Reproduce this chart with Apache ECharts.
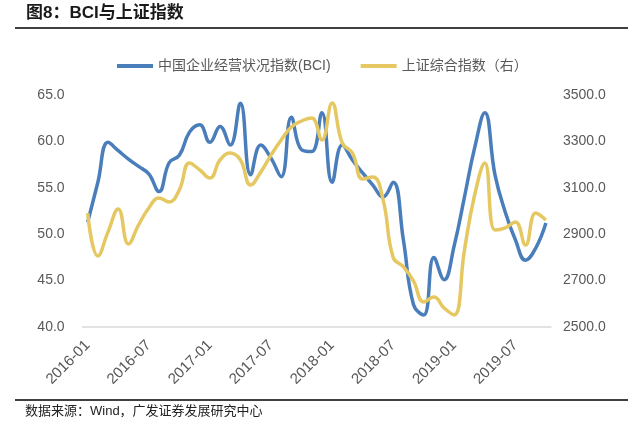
<!DOCTYPE html>
<html>
<head>
<meta charset="utf-8">
<script src="https://cdn.jsdelivr.net/npm/echarts@6/dist/echarts.min.js"></script>
<style>
html,body{margin:0;padding:0;background:#fff;}
#c{width:643px;height:437px;}
</style>
</head>
<body>
<div id="c"></div>
<script>
const categories = [
'2016-01','2016-02','2016-03','2016-04','2016-05','2016-06','2016-07','2016-08','2016-09','2016-10','2016-11','2016-12',
'2017-01','2017-02','2017-03','2017-04','2017-05','2017-06','2017-07','2017-08','2017-09','2017-10','2017-11','2017-12',
'2018-01','2018-02','2018-03','2018-04','2018-05','2018-06','2018-07','2018-08','2018-09','2018-10','2018-11','2018-12',
'2019-01','2019-02','2019-03','2019-04','2019-05','2019-06','2019-07','2019-08','2019-09','2019-10'];
const bciValues = [
51.3,55.6,59.9,59.0,58.1,57.3,56.5,54.6,57.7,58.5,61.0,61.8,
59.9,61.6,59.6,64.1,56.4,59.6,58.2,56.2,62.6,59.1,58.9,63.1,
55.6,59.6,58.0,56.6,55.3,54.0,55.6,49.4,42.4,41.3,47.5,45.1,
48.8,54.0,59.3,63.1,56.4,52.4,49.4,47.2,48.5,51.2];
const sseValues = [
2991,2806,2910,3009,2858,2940,3013,3056,3039,3091,3207,3177,
3142,3220,3250,3220,3112,3168,3241,3306,3362,3388,3401,3306,
3466,3293,3250,3138,3147,3050,2800,2760,2698,2608,2629,2582,
2552,2832,3069,3207,2918,2927,2953,2853,2991,2961];
const leftTicks = {min:40, max:65, interval:5};
const rightTicks = {min:2500, max:3500, interval:200};
const seriesNames = ['中国企业经营状况指数(BCI)','上证综合指数（右）'];

const FONT = '"Liberation Sans", Arial, "Noto Sans CJK SC", sans-serif';
const chart = echarts.init(document.getElementById('c'));
chart.setOption({
  animation:false,
  backgroundColor:'#fff',
  textStyle:{fontFamily:FONT},
  grid:{left:82.6, right:92, top:95, bottom:110},
  legend:{
    left:112, top:54, itemWidth:36, itemHeight:4, itemGap:30, icon:'rect',
    textStyle:{fontSize:14, color:'#595959', fontFamily:FONT},
    data:seriesNames
  },
  xAxis:{
    type:'category', data:categories, boundaryGap:true,
    axisLine:{lineStyle:{color:'#d9d9d9', width:1.5}},
    axisTick:{show:false},
    axisLabel:{interval:5, rotate:45, fontSize:15, color:'#595959', margin:16, fontFamily:FONT}
  },
  yAxis:[
    {type:'value', min:leftTicks.min, max:leftTicks.max, interval:leftTicks.interval,
     splitLine:{show:false}, axisLine:{show:false}, axisTick:{show:false},
     axisLabel:{fontSize:14, color:'#595959', margin:18, formatter:v=>v.toFixed(1), fontFamily:FONT}},
    {type:'value', min:rightTicks.min, max:rightTicks.max, interval:rightTicks.interval,
     splitLine:{show:false}, axisLine:{show:false}, axisTick:{show:false},
     axisLabel:{fontSize:14, color:'#595959', margin:12, formatter:v=>v.toFixed(1), fontFamily:FONT}}
  ],
  series:[
    {name:seriesNames[0], type:'line', yAxisIndex:0, data:bciValues, smooth:0.45, showSymbol:false,
     lineStyle:{color:'#4A7EBB', width:3.5}, itemStyle:{color:'#4A7EBB'}, z:2},
    {name:seriesNames[1], type:'line', yAxisIndex:1, data:sseValues, smooth:0.45, showSymbol:false,
     lineStyle:{color:'#E5C861', width:3.5}, itemStyle:{color:'#E5C861'}, z:3}
  ],
  graphic:[
    {type:'text', left:26, top:5, style:{text:'图8：BCI与上证指数', font:'bold 17px '+FONT, fill:'#1a1a1a'}},
    {type:'line', shape:{x1:15, y1:28, x2:628, y2:28}, style:{stroke:'#000', lineWidth:1.5}},
    {type:'line', shape:{x1:15, y1:400, x2:628, y2:400}, style:{stroke:'#000', lineWidth:1.5}},
    {type:'text', left:25, top:405, style:{text:'数据来源：Wind，广发证券发展研究中心', font:'13px '+FONT, fill:'#222'}}
  ]
});
</script>
</body>
</html>
